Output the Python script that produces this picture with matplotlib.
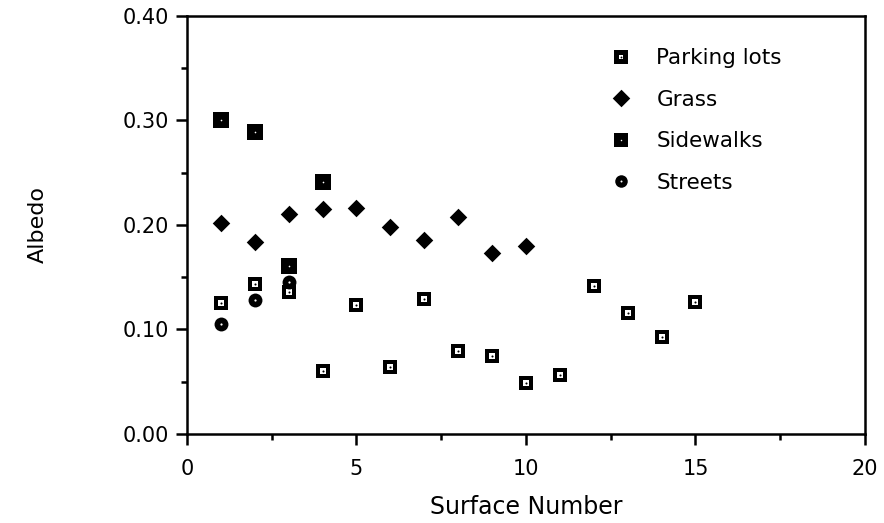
import matplotlib
matplotlib.use("Agg")
import matplotlib.pyplot as plt
from matplotlib.legend_handler import HandlerTuple
from matplotlib.ticker import MultipleLocator, FormatStrFormatter

# ---- data ----
parking_x = [1, 2, 3, 4, 5, 6, 7, 8, 9, 10, 11, 12, 13, 14, 15]
parking_y = [0.125, 0.144, 0.136, 0.060, 0.123, 0.064, 0.129, 0.079, 0.075,
             0.049, 0.056, 0.142, 0.116, 0.093, 0.126]
grass_x = [1, 2, 3, 4, 5, 6, 7, 8, 9, 10]
grass_y = [0.202, 0.184, 0.211, 0.215, 0.216, 0.198, 0.186, 0.208, 0.173, 0.180]
sidewalk_x = [1, 2, 3, 4]
sidewalk_y = [0.300, 0.289, 0.161, 0.241]
street_x = [1, 2, 3]
street_y = [0.105, 0.128, 0.145]

labels = ["Parking lots", "Grass", "Sidewalks", "Streets"]
x_ticks = [0, 5, 10, 15, 20]
y_ticks = [0.0, 0.1, 0.2, 0.3, 0.4]

plt.rcParams['font.family'] = ['DejaVu Sans']

fig = plt.figure(figsize=(8.84, 5.23), dpi=100)
ax = fig.add_axes([0.2115, 0.1702, 0.767, 0.7992])

def plot_parking(x, y):
    a = ax.plot(x, y, ls='none', marker='s', ms=10.5, mfc='black', mec='black', mew=0)[0]
    b = ax.plot(x, y, ls='none', marker='s', ms=3.8, mfc='white', mec='white', mew=0)[0]
    c = ax.plot(x, y, ls='none', marker='o', ms=1.5, mfc='black', mec='black', mew=0)[0]
    return (a, b, c)

def plot_grass(x, y):
    a = ax.plot(x, y, ls='none', marker='D', ms=7.6, mfc='black', mec='black',
                mew=1.8)[0]
    a.set_solid_joinstyle('round')
    return (a,)

def plot_sidewalk(x, y):
    a = ax.plot(x, y, ls='none', marker='s', ms=11, mfc='black', mec='black', mew=0)[0]
    b = ax.plot(x, y, ls='none', marker='o', ms=1.2, mfc='white', mec='white', mew=0)[0]
    return (a, b)

def plot_street(x, y):
    a = ax.plot(x, y, ls='none', marker='o', ms=10, mfc='black', mec='black', mew=0)[0]
    b = ax.plot(x, y, ls='none', marker='o', ms=1.6, mfc='white', mec='white', mew=0)[0]
    return (a, b)

h_park = plot_parking(parking_x, parking_y)
h_grass = plot_grass(grass_x, grass_y)
h_side = plot_sidewalk(sidewalk_x, sidewalk_y)
h_street = plot_street(street_x, street_y)

ax.set_xlim(0, 20)
ax.set_ylim(0, 0.40)
ax.set_xticks(x_ticks)
ax.set_yticks(y_ticks)
ax.xaxis.set_minor_locator(MultipleLocator(2.5))
ax.yaxis.set_minor_locator(MultipleLocator(0.05))
ax.yaxis.set_major_formatter(FormatStrFormatter('%.2f'))

for s in ax.spines.values():
    s.set_linewidth(1.8)

ax.tick_params(axis='both', which='major', direction='out', length=8, width=1.8,
               labelsize=15)
ax.tick_params(axis='both', which='minor', direction='out', length=4.5, width=1.8)
ax.tick_params(axis='x', which='major', pad=10)
ax.tick_params(axis='y', which='major', pad=5)

ax.set_xlabel("Surface Number", fontsize=17)
ax.set_ylabel("Albedo", fontsize=16)
ax.xaxis.set_label_coords(0.5, -0.175)
ax.xaxis.label.set_verticalalignment('center')
ax.yaxis.set_label_coords(-0.22, 0.5)
ax.yaxis.label.set_verticalalignment('center')

leg = ax.legend([h_park, h_grass, h_side, h_street], labels,
                handler_map={tuple: HandlerTuple(ndivide=1, pad=0)},
                loc='upper left', bbox_to_anchor=(0.624, 0.923),
                frameon=False, fontsize=15.5, handlelength=1.0,
                handletextpad=1.15, labelspacing=1.0, borderpad=0,
                borderaxespad=0, markerscale=0.9)

fig.savefig("out.png", dpi=100)
